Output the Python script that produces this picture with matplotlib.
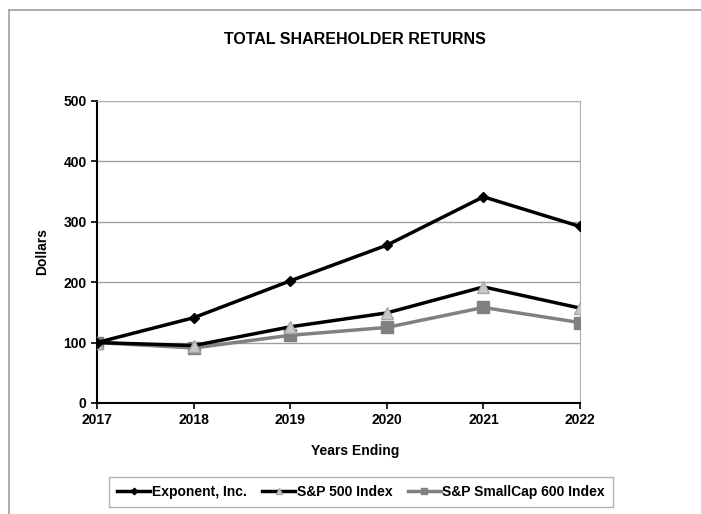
import matplotlib.pyplot as plt
from matplotlib.lines import Line2D

plt.rcParams['font.family'] = ['Liberation Sans', 'DejaVu Sans']
plt.rcParams['font.weight'] = 'bold'

years = ['2017', '2018', '2019', '2020', '2021', '2022']
exponent = [100, 141, 202, 261, 341, 292]
sp500 = [100, 95, 126, 149, 192, 157]
smallcap = [100, 91, 112, 125, 158, 133]

fig = plt.figure(figsize=(7.01, 5.14), dpi=100)
ax = fig.add_axes([97 / 701, 1 - 403 / 514, (580 - 97) / 701, (403 - 100.7) / 514])

x = list(range(len(years)))
ax.plot(x, exponent, color='black', lw=2.5, marker='D', ms=5.5,
        mfc='black', mec='black', label='Exponent, Inc.', zorder=5)
ax.plot(x, sp500, color='black', lw=2.5, marker='^', ms=8,
        mfc='#c8c8c8', mec='#a8a8a8', label='S&P 500 Index', zorder=4)
ax.plot(x, smallcap, color='#808080', lw=2.5, marker='s', ms=8,
        mfc='#808080', mec='#808080', label='S&P SmallCap 600 Index', zorder=3)

ax.set_xlim(0, len(years) - 1)
ax.set_ylim(0, 500)
ax.set_xticks(x)
ax.set_xticklabels(years)
ax.set_yticks(range(0, 501, 100))
ax.tick_params(axis='both', labelsize=10, direction='out', length=4, width=1.2)
ax.tick_params(axis='x', pad=3)
ax.grid(axis='y', color='#a0a0a0', lw=1)
ax.set_axisbelow(True)

ax.spines['left'].set_linewidth(1.5)
ax.spines['bottom'].set_linewidth(1.5)
ax.spines['top'].set_color('#b0b0b0')
ax.spines['right'].set_color('#b0b0b0')

ax.set_ylabel('Dollars', fontsize=10, fontweight='bold', labelpad=10)

fig.text(355 / 701, 1 - 40 / 514, 'TOTAL SHAREHOLDER RETURNS', ha='center',
         va='center', fontsize=11.5, fontweight='bold')
fig.text(355 / 701, 1 - 451 / 514, 'Years Ending', ha='center',
         va='center', fontsize=10, fontweight='bold')

leg = fig.legend(loc='center', bbox_to_anchor=(361 / 701, 1 - 492 / 514), ncol=3,
                 fontsize=10, frameon=True, fancybox=False, handlelength=2.4,
                 handletextpad=0.1, columnspacing=1.1, borderpad=0.6,
                 markerscale=0.6)
leg.get_frame().set_edgecolor('#a0a0a0')
leg.get_frame().set_linewidth(1)

# outer frame
fig.add_artist(Line2D([9 / 701, 9 / 701], [0, 1 - 10 / 514], color='#a0a0a0', lw=1.2))
fig.add_artist(Line2D([9 / 701, 1], [1 - 10 / 514, 1 - 10 / 514], color='#a0a0a0', lw=1.2))

fig.savefig('out.png', dpi=100)
